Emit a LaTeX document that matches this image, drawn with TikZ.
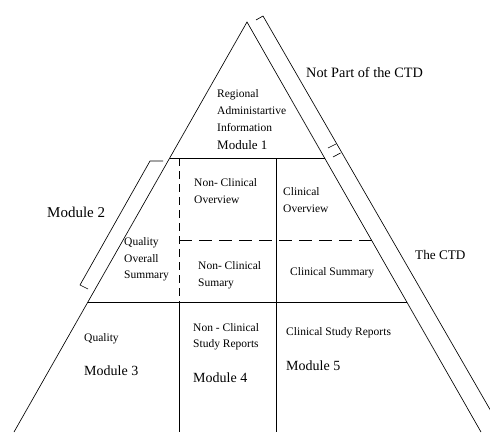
\documentclass[tikz,border=0pt]{standalone}
\usepackage{fontspec}
\setmainfont{Liberation Serif}
\begin{document}
\begin{tikzpicture}[x=1pt,y=-1pt,
  edge/.style={line width=0.65pt,black},
  dashv/.style={edge,dash pattern=on 8pt off 5pt},
  dashh/.style={edge,dash pattern=on 13pt off 7pt},
  brk/.style={line width=0.65pt,black},
  small/.style={font=\fontsize{11.5}{16.5}\selectfont,inner sep=0pt,anchor=west,align=left},
  modlab/.style={font=\fontsize{14}{16}\selectfont,inner sep=0pt,anchor=west},
  outlab/.style={font=\fontsize{14}{16}\selectfont,inner sep=0pt,anchor=west}]
\useasboundingbox (0,0) rectangle (490,432);
\clip (0,0) rectangle (490,432);
\fill[white] (0,0) rectangle (490,432);

% pyramid corners
\coordinate (apex) at (247,22);
\coordinate (bl) at (14,432);
\coordinate (br) at (481,432);
% tier boundaries on the sides
\coordinate (t1l) at (169.8,158);
\coordinate (t1r) at (324.7,158);
\coordinate (t2r) at (371.6,240);
\coordinate (t3l) at (88,302);
\coordinate (t3r) at (407,302);
% inner dividers
\coordinate (dv1) at (179,158);
\coordinate (dv2) at (179,240);
\coordinate (dv3) at (179,302);
\coordinate (dvb) at (179,432);
\coordinate (sv1) at (276,158);
\coordinate (svb) at (276,432);

% outline
\draw[edge] (bl) -- (apex) -- (br);
% horizontal tiers
\draw[edge] (t1l) -- (t1r);
\draw[edge] (t3l) -- (t3r);
\draw[dashh] (dv2) -- (t2r);
% vertical dividers
\draw[dashv] (dv1) -- (dv3);
\draw[edge] (dv3) -- (dvb);
\draw[edge] (sv1) -- (svb);

% right-hand brackets
\coordinate (rb0) at (263,16);
\coordinate (rb0c) at (256,20);
\coordinate (rb1) at (336,144);
\coordinate (rb1c) at (328,148);
\coordinate (rb2) at (340.5,153);
\coordinate (rb2c) at (333,157);
\coordinate (rbe) at (503,432);
\draw[brk] (rb0c) -- (rb0) -- (rbe);
\draw[brk] (rb1) -- (rb1c);
\draw[brk] (rb2) -- (rb2c);

% left bracket for module 2
\coordinate (lb0c) at (163,161);
\coordinate (lb0) at (150,161);
\coordinate (lb1) at (80,285);
\coordinate (lb1c) at (88,289);
\draw[brk] (lb0c) -- (lb0) -- (lb1) -- (lb1c);

% labels
\node[outlab,font=\fontsize{14.3}{16}\selectfont] (notpart) at (306,73) {Not Part of the CTD};
\node[outlab,font=\fontsize{13.2}{16}\selectfont] (thectd) at (415,255) {The CTD};
\node[outlab,font=\fontsize{15}{16}\selectfont] (mod2) at (47,212) {Module 2};

\node[small,font=\fontsize{11.5}{17.3}\selectfont] (regional) at (217,110.5) {Regional\\Administartive\\Information};
\node[small,font=\fontsize{13}{16}\selectfont] (mod1) at (217,145) {Module 1};

\node[small] (qos) at (124,259.5) {Quality\\Overall\\Summary};
\node[small] (ncover) at (194,191) {Non- Clinical\\Overview};
\node[small] (cover) at (283,200) {Clinical\\Overview};
\node[small] (ncsum) at (198,275) {Non- Clinical\\Sumary};
\node[small] (csum) at (290,273) {Clinical Summary};

\node[small] (qual) at (84,339) {Quality};
\node[modlab] (mod3) at (84,371) {Module 3};
\node[small] (ncsr) at (193,336.5) {Non - Clinical\\Study Reports};
\node[modlab] (mod4) at (193,378) {Module 4};
\node[small] (csr) at (286,333) {Clinical Study Reports};
\node[modlab] (mod5) at (286,366) {Module 5};
\end{tikzpicture}
\end{document}
